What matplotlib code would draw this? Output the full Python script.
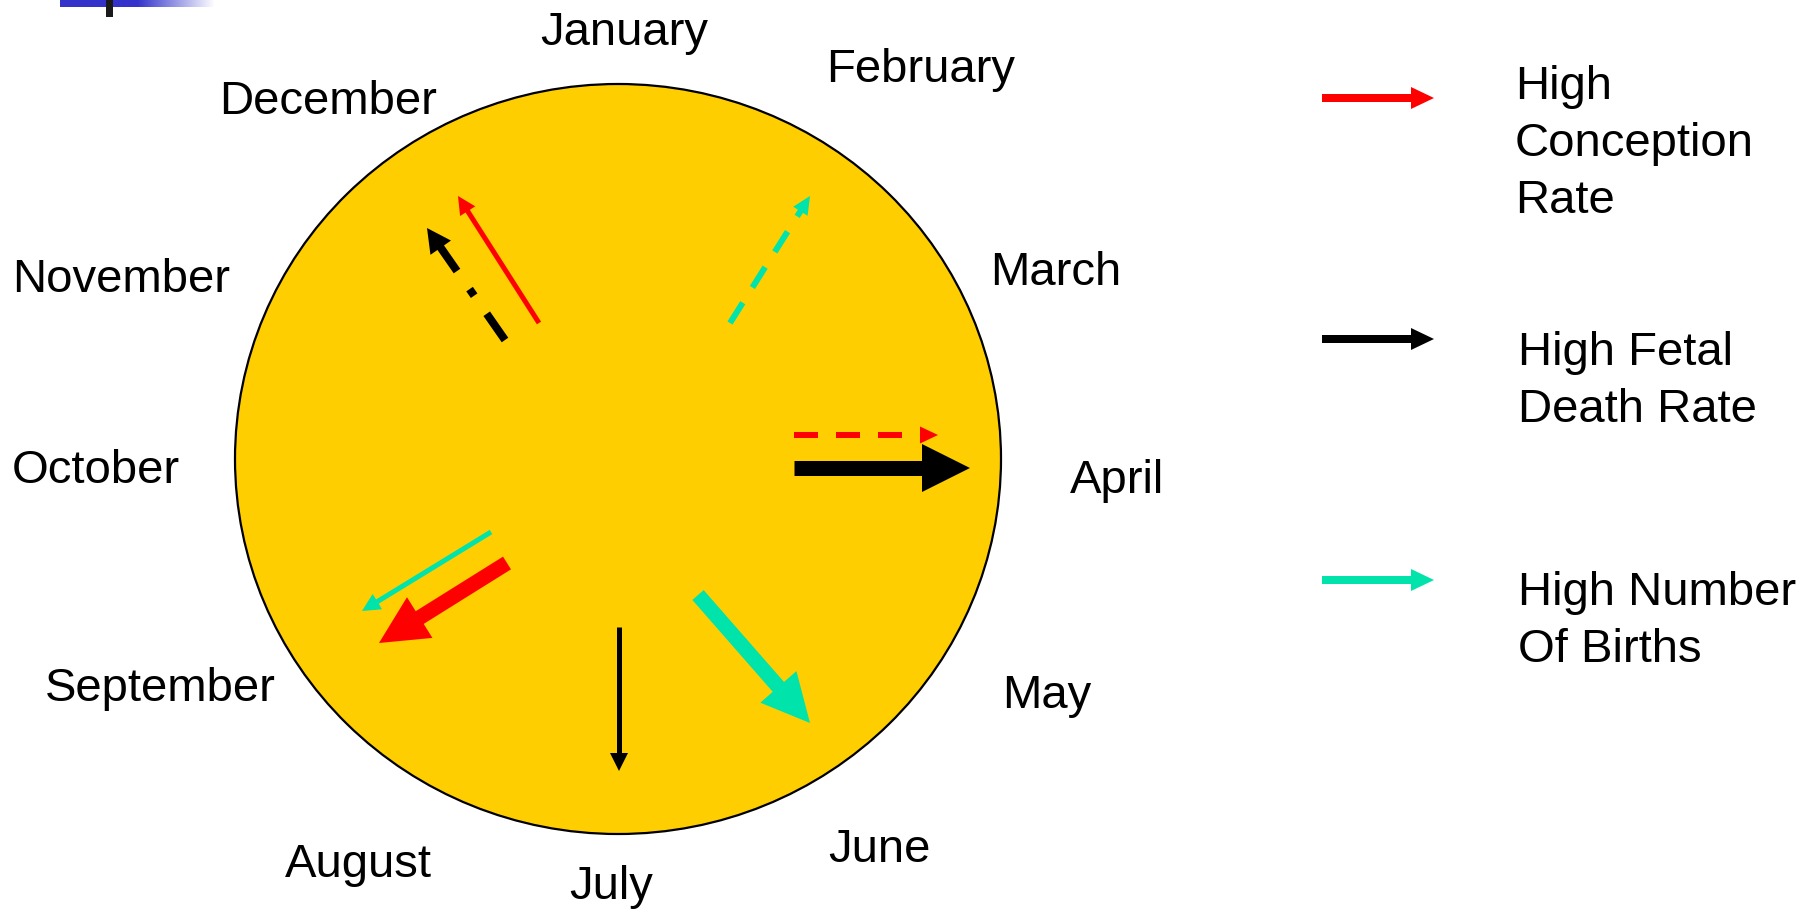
import numpy as np
import matplotlib
matplotlib.use('Agg')
import matplotlib.pyplot as plt
from matplotlib.patches import Ellipse, Polygon, Rectangle

plt.rcParams['font.family'] = ['Liberation Sans', 'DejaVu Sans']
plt.rcParams['lines.scale_dashes'] = False

# Month names round the circle and where their text sits (left x, baseline y), in pixels
months = ['January', 'February', 'March', 'April', 'May', 'June',
          'July', 'August', 'September', 'October', 'November', 'December']
month_x = [540, 826, 990, 1070, 1002, 828, 569, 285, 45, 12, 12, 219]
month_y = [45, 82, 285, 493, 708, 862, 899, 877, 701, 483, 292, 114]

# Legend
series = ['conception', 'fetal', 'births']
series_labels = [['High', 'Conception', 'Rate'],
                 ['High Fetal', 'Death Rate'],
                 ['High Number', 'Of Births']]
series_colors = ['#FF0000', '#000000', '#00E3AA']

# Arrows on the circle: (series, tail, tip, style)
arrows = [
    ('conception', (539, 323), (458, 196), 'thin'),
    ('conception', (794, 435), (938, 435), 'dashed'),
    ('conception', (507, 563), (379, 643), 'thick'),
    ('fetal', (505, 340), (427, 228), 'dashdot'),
    ('fetal', (794, 468), (970, 468), 'thick'),
    ('fetal', (619, 627), (619, 771), 'thin'),
    ('births', (730, 323), (810, 196), 'dashed'),
    ('births', (491, 532), (362, 611), 'thin'),
    ('births', (698, 595), (810, 723), 'thick'),
]

PX = 0.72  # pixels -> points at dpi 100
styles = {
    # shaft px, head length px, head width px, dash pattern px
    'thin': (5, 18, 18, None),
    'dashed': (6, 18, 17, (24, 18)),
    'dashdot': (8, 24, 25, (32, 22, 8, 22)),
    'thick': (15, 48, 48, None),
}


def draw_arrow(ax, tail, tip, color, shaft, head_len, head_w, dashes=None):
    tail = np.array(tail, float)
    tip = np.array(tip, float)
    d = tip - tail
    u = d / np.hypot(*d)
    n = np.array([-u[1], u[0]])
    base = tip - u * head_len
    end = base + u * 1.5
    ls = '-' if dashes is None else (0, tuple(v * PX for v in dashes))
    ax.plot([tail[0], end[0]], [tail[1], end[1]], color=color, lw=shaft * PX,
            linestyle=ls, solid_capstyle='butt', dash_capstyle='butt')
    ax.add_patch(Polygon([tip, base + n * head_w / 2, base - n * head_w / 2],
                         closed=True, facecolor=color, edgecolor='none'))


fig = plt.figure(figsize=(18.16, 9.10), dpi=100)
ax = fig.add_axes([0, 0, 1, 1])
ax.axis('off')

# slide decoration in the corner: blue bar fading to white and a small dark tick
grad = np.linspace(0, 1, 200)
fade = np.clip((grad - 0.5) / 0.5, 0, 1)
bar = np.ones((1, 200, 3))
bar[0, :, 0] = 0.2 + 0.8 * fade
bar[0, :, 1] = 0.2 + 0.8 * fade
bar[0, :, 2] = 0.8 + 0.2 * fade
ax.imshow(bar, extent=(60, 215, 7, 0), aspect='auto', zorder=1)
ax.add_patch(Rectangle((106, 0), 7, 17, facecolor='#1a1a1a', edgecolor='none', zorder=2))
ax.set_xlim(0, 1816)
ax.set_ylim(910, 0)

# the year circle
ax.add_patch(Ellipse((618, 459), 766, 750, facecolor='#FFCE00', edgecolor='black', lw=1.6, zorder=1))

for name, x, y in zip(months, month_x, month_y):
    ax.text(x, y, name, fontsize=34, ha='left', va='baseline', color='black')

for s, tail, tip, style in arrows:
    color = series_colors[series.index(s)]
    shaft, hl, hw, dashes = styles[style]
    draw_arrow(ax, tail, tip, color, shaft, hl, hw, dashes)

# legend
legend_y = [98, 339, 580]
legend_text_x = [1515, 1518, 1518]
legend_text_y = [99, 365, 605]
for lines, color, ly, tx, ty in zip(series_labels, series_colors, legend_y, legend_text_x, legend_text_y):
    draw_arrow(ax, (1322, ly), (1434, ly), color, 8, 23, 22)
    for i, line in enumerate(lines):
        ax.text(tx, ty + i * 57, line, fontsize=34, ha='left', va='baseline', color='black')

fig.savefig('out.png', dpi=100)
